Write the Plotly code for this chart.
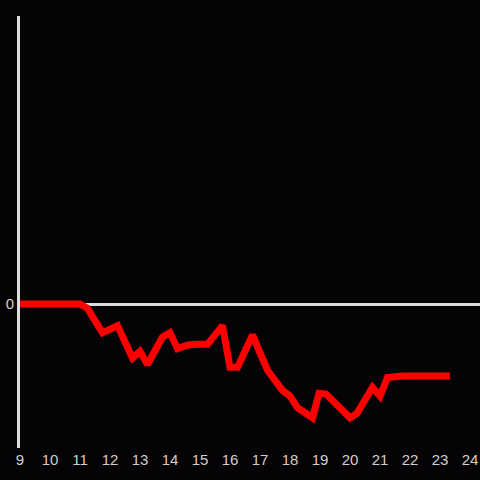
import plotly.graph_objects as go

hours = [9, 11, 11.25, 11.75, 12.25, 12.75, 13.0, 13.25, 13.75, 14.0, 14.25, 14.6, 14.9, 15.25,
         15.75, 16.0, 16.25, 16.75, 17.0, 17.25, 17.75, 18.0, 18.25, 18.75, 18.97, 19.2,
         20.0, 20.23, 20.75, 21.0, 21.25, 21.75, 23.33]
values = [0, 0, -0.03, -0.20, -0.15, -0.375, -0.33, -0.42, -0.23, -0.20, -0.31, -0.285, -0.28, -0.28,
          -0.15, -0.44, -0.44, -0.215, -0.34, -0.46, -0.60, -0.64, -0.72, -0.79, -0.62, -0.625,
          -0.79, -0.76, -0.58, -0.64, -0.51, -0.50, -0.50]
x_ticks = list(range(9, 25))

fig = go.Figure(go.Scatter(x=hours, y=values, mode="lines",
                           line=dict(color="#ff0000", width=7), hoverinfo="skip"))

fig.update_layout(
    width=480, height=480,
    margin=dict(l=20, r=0, t=16, b=32),
    paper_bgcolor="#050306", plot_bgcolor="#050306",
    showlegend=False,
    font=dict(family="Liberation Sans, Arial, sans-serif", size=15, color="#d0d0d0"),
)
fig.update_xaxes(range=[9, 24.333], tickvals=x_ticks, ticktext=[str(t) for t in x_ticks],
                 showgrid=False, zeroline=False, showline=False, ticks="", fixedrange=True,
                 ticklabelstandoff=1)
fig.update_yaxes(range=[-1, 2], tickvals=[0], ticktext=["0"], showgrid=False,
                 zeroline=True, zerolinecolor="#dddddd", zerolinewidth=3,
                 showline=True, linecolor="#dddddd", linewidth=3, ticks="", ticklen=0,
                 fixedrange=True)

fig.write_html("out.html", config={"displayModeBar": False},
               post_script="document.body.style.margin='0';document.body.style.background='#050306';")
